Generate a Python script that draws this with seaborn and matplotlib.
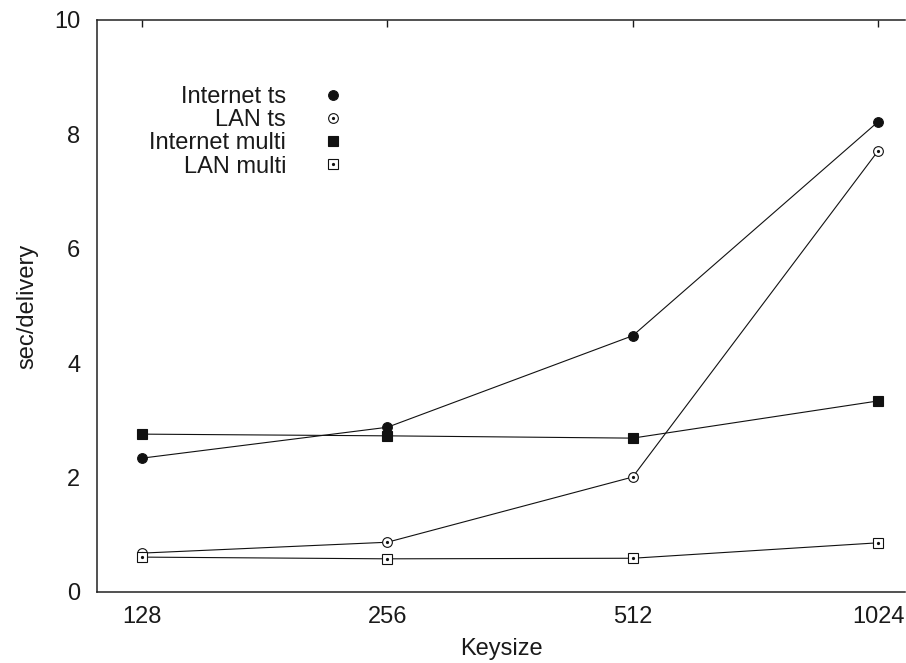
import pandas as pd
import seaborn as sns
import matplotlib.pyplot as plt
from matplotlib.lines import Line2D

# dados
keysizes = [128, 256, 512, 1024]
internet_ts = [2.34, 2.88, 4.48, 8.22]
lan_ts = [0.68, 0.87, 2.01, 7.71]
internet_multi = [2.76, 2.73, 2.69, 3.34]
lan_multi = [0.61, 0.58, 0.59, 0.86]

series_names = ["Internet ts", "LAN ts", "Internet multi", "LAN multi"]
series_values = [internet_ts, lan_ts, internet_multi, lan_multi]

rows = []
for name, vals in zip(series_names, series_values):
    for k, v in zip(keysizes, vals):
        rows.append({"keysize": k, "sec": v, "serie": name})
df = pd.DataFrame(rows)

sns.set_theme(style="white")
plt.rcParams['font.family'] = ['Liberation Sans', 'DejaVu Sans']

fig = plt.figure(figsize=(9.06, 6.63), dpi=100)
ax = fig.add_axes([97 / 906, 1 - 592 / 663, 808 / 906, 572 / 663])

cor = "#111111"
# estilo de cada série: marcador, preenchimento e ponto central
estilos = {
    "Internet ts": dict(marker="o", mfc=cor, ms=7, dot=False),
    "LAN ts": dict(marker="o", mfc="white", ms=7, dot=True),
    "Internet multi": dict(marker="s", mfc=cor, ms=7, dot=False),
    "LAN multi": dict(marker="s", mfc="white", ms=7, dot=True),
}

handles = []
for name in series_names:
    st = estilos[name]
    sub = df[df["serie"] == name]
    sns.lineplot(data=sub, x="keysize", y="sec", ax=ax, color=cor,
                 linewidth=0.8, marker=st["marker"], markersize=st["ms"],
                 markerfacecolor=st["mfc"], markeredgecolor=cor,
                 markeredgewidth=0.8, legend=False)
    h = Line2D([], [], linestyle="none", marker=st["marker"],
               markersize=st["ms"], markerfacecolor=st["mfc"],
               markeredgecolor=cor, markeredgewidth=0.8)
    if st["dot"]:
        ax.plot(sub["keysize"], sub["sec"], linestyle="none", marker="o",
                markersize=1.3, color=cor)
        ponto = Line2D([], [], linestyle="none", marker="o",
                       markersize=1.3, color=cor)
        handles.append((h, ponto))
    else:
        handles.append(h)

ax.set_xscale("log", base=2)
ax.set_xlim(2 ** 6.8166, 2 ** 10.110)
ax.set_xticks(keysizes)
ax.set_xticklabels([str(k) for k in keysizes])
ax.minorticks_off()
ax.set_ylim(0, 10)
ax.set_yticks([0, 2, 4, 6, 8, 10])

ax.set_xlabel("Keysize", fontsize=17, color="#1a1a1a", labelpad=7)
ax.set_ylabel("sec/delivery", fontsize=17, color="#1a1a1a", labelpad=11)

ax.tick_params(axis="both", direction="in", length=5, width=1.0,
               labelsize=17, colors="#1a1a1a")
ax.tick_params(axis="x", top=True, pad=10)
ax.tick_params(axis="y", pad=12)

for s in ["left", "bottom", "top"]:
    ax.spines[s].set_color("#222222")
    ax.spines[s].set_linewidth(1.1)
ax.spines["right"].set_visible(False)

leg = ax.legend(handles=handles, labels=series_names, loc="upper right",
                bbox_to_anchor=(344 / 906, 1 - 86 / 663),
                bbox_transform=fig.transFigure, frameon=False,
                markerfirst=False, fontsize=17, handlelength=0.95,
                handletextpad=1.5, labelspacing=0.05, borderpad=0,
                borderaxespad=0)
for t in leg.get_texts():
    t.set_color("#1a1a1a")

fig.savefig("out.png", dpi=100)
